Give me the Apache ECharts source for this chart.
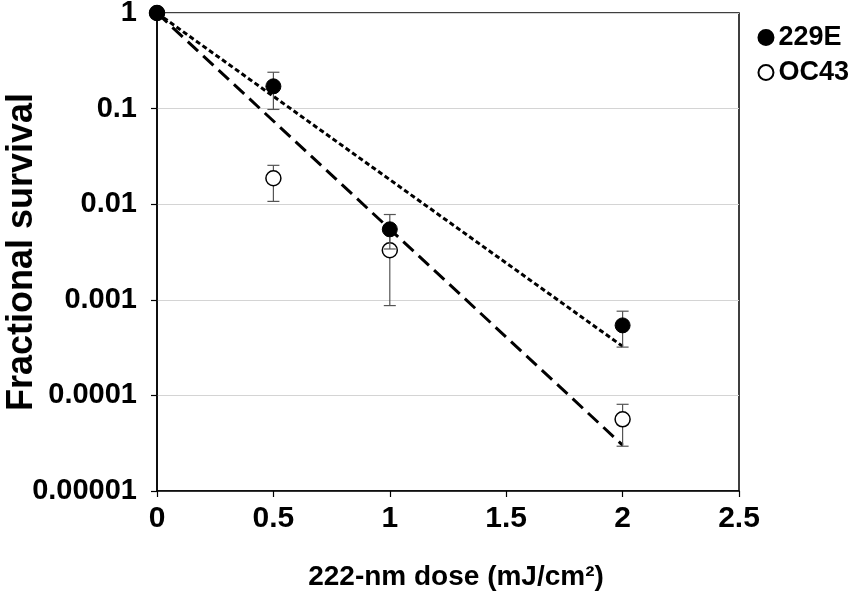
<!DOCTYPE html>
<html>
<head>
<meta charset="utf-8">
<script src="https://cdn.jsdelivr.net/npm/echarts@6/dist/echarts.min.js"></script>
<style>
html,body{margin:0;padding:0;background:#fff;}
#chart{width:862px;height:596px;}
</style>
</head>
<body>
<div id="chart"></div>
<script>
// ---- data ----
const doses = [0, 0.5, 1, 2];
const survival229E = [1, 0.171, 0.00546, 0.00054];
const err229ELow  = [null, 0.098, 0.0034, 0.00032];
const err229EHigh = [null, 0.24, 0.0078, 0.00076];
const survivalOC43 = [1, 0.0187, 0.0033, 0.0000562];
const errOC43Low  = [null, 0.0107, 0.00087, 0.0000294];
const errOC43High = [null, 0.0255, 0.0055, 0.0000807];
const fitDoses = [0, 2];
const fit229E = [1, 0.000326];
const fitOC43 = [1, 0.0000302];
const xTicks = [0, 0.5, 1, 1.5, 2, 2.5];
const yTickLabels = {1: '1', 0.1: '0.1', 0.01: '0.01', 0.001: '0.001', 0.0001: '0.0001', 0.00001: '0.00001'};

const FONT = '"Liberation Sans", Arial, Helvetica, sans-serif';

function pairs(xs, ys) { return xs.map((x, i) => [x, ys[i]]); }
function errData(xs, lo, hi) {
  const out = [];
  xs.forEach((x, i) => { if (lo[i] != null) out.push([x, lo[i], hi[i]]); });
  return out;
}
function errRender(params, api) {
  const x = api.value(0);
  const p1 = api.coord([x, api.value(1)]);
  const p2 = api.coord([x, api.value(2)]);
  const cap = 6;
  const style = { stroke: '#555', lineWidth: 1.2 };
  return {
    type: 'group',
    children: [
      { type: 'line', shape: { x1: p1[0], y1: p1[1], x2: p2[0], y2: p2[1] }, style },
      { type: 'line', shape: { x1: p1[0] - cap, y1: p1[1], x2: p1[0] + cap, y2: p1[1] }, style },
      { type: 'line', shape: { x1: p2[0] - cap, y1: p2[1], x2: p2[0] + cap, y2: p2[1] }, style }
    ]
  };
}

const chart = echarts.init(document.getElementById('chart'), null, { renderer: 'canvas' });
chart.setOption({
  animation: false,
  backgroundColor: '#fff',
  grid: { left: 157, right: 123, top: 13, bottom: 105, containLabel: false, outerBoundsMode: 'none',
    show: true, borderColor: '#000', borderWidth: 1.5, backgroundColor: 'transparent' },
  legend: {
    data: ['229E', 'OC43'],
    orient: 'vertical',
    right: 13,
    top: 24,
    padding: 0,
    itemGap: 8,
    itemWidth: 15,
    itemHeight: 15,
    icon: 'circle',
    textStyle: { fontFamily: FONT, fontWeight: 'bold', fontSize: 27, color: '#000' }
  },
  xAxis: {
    type: 'value',
    min: 0, max: 2.5, interval: 0.5,
    name: '222-nm dose (mJ/cm²)',
    nameLocation: 'middle',
    nameGap: 72,
    nameMoveOverlap: false,
    nameTextStyle: { fontFamily: FONT, fontWeight: 'bold', fontSize: 28, color: '#000', padding: [0, 0, 0, 16] },
    axisLine: { lineStyle: { color: '#000', width: 1.5 } },
    axisTick: { show: true, length: 6, lineStyle: { color: '#000', width: 1.2 } },
    axisLabel: { fontFamily: FONT, fontWeight: 'bold', fontSize: 30, color: '#000', margin: 13,
      formatter: v => xTicks.includes(v) ? String(v) : '' },
    splitLine: { show: false }
  },
  yAxis: {
    type: 'log',
    logBase: 10,
    min: 0.00001, max: 1,
    name: 'Fractional survival',
    nameLocation: 'middle',
    nameGap: 117,
    nameMoveOverlap: false,
    nameTextStyle: { fontFamily: FONT, fontWeight: 'bold', fontSize: 36, color: '#000' },
    axisLine: { lineStyle: { color: '#000', width: 1.5 } },
    axisTick: { show: true, length: 6, lineStyle: { color: '#000', width: 1.2 } },
    axisLabel: { fontFamily: FONT, fontWeight: 'bold', fontSize: 29, color: '#000', margin: 20,
      formatter: v => { for (const k in yTickLabels) { if (Math.abs(Math.log10(v) - Math.log10(+k)) < 1e-6) return yTickLabels[k]; } return ''; } },
    splitLine: { show: true, lineStyle: { color: '#d4d4d4', width: 1.2 } },
    minorTick: { show: false }
  },
  series: [
    { name: 'fit229E', type: 'line', data: pairs(fitDoses, fit229E), symbol: 'none', z: 3,
      lineStyle: { color: '#000', width: 3, type: [5, 3] } },
    { name: 'fitOC43', type: 'line', data: pairs(fitDoses, fitOC43), symbol: 'none', z: 3,
      lineStyle: { color: '#000', width: 3, type: [14, 7] } },
    { name: 'errOC43', type: 'custom', renderItem: errRender, data: errData(doses, errOC43Low, errOC43High), z: 4,
      encode: { x: 0, y: [1, 2] } },
    { name: 'OC43', type: 'scatter', data: pairs(doses, survivalOC43), symbol: 'circle', symbolSize: 15, z: 5,
      itemStyle: { color: '#fff', borderColor: '#000', borderWidth: 1.5, opacity: 1 } },
    { name: 'err229E', type: 'custom', renderItem: errRender, data: errData(doses, err229ELow, err229EHigh), z: 6,
      encode: { x: 0, y: [1, 2] } },
    { name: '229E', type: 'scatter', data: pairs(doses, survival229E), symbol: 'circle', symbolSize: 15, z: 7,
      itemStyle: { color: '#000', borderColor: '#000', borderWidth: 1, opacity: 1 } }
  ]
});
</script>
</body>
</html>
